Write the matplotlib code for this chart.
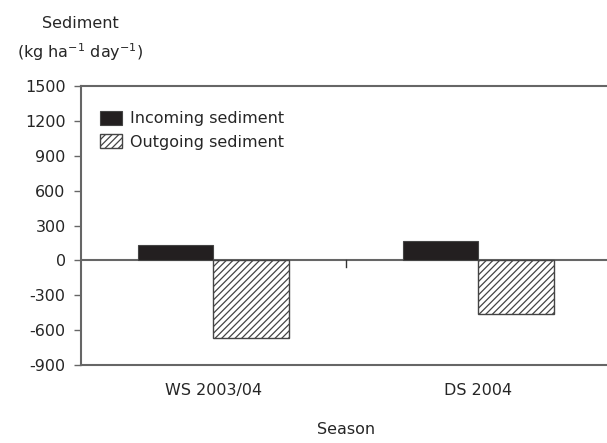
import matplotlib
matplotlib.use("Agg")
import matplotlib.pyplot as plt
import numpy as np

plt.rcParams['font.family'] = ['DejaVu Sans']
plt.rcParams['hatch.linewidth'] = 0.9
plt.rcParams['hatch.color'] = '#231f20'
plt.rcParams['mathtext.default'] = 'regular'

seasons = ["WS 2003/04", "DS 2004"]
incoming = [135, 166]
outgoing = [-665, -459]
series_names = ["Incoming sediment", "Outgoing sediment"]
yticks = [-900, -600, -300, 0, 300, 600, 900, 1200, 1500]

fs = 11.5
tc = '#262626'
fig = plt.figure(figsize=(6.07, 4.43), dpi=100)
ax = fig.add_axes([81/607, 78/443, 530/607, 279/443])

x = np.arange(len(seasons))
w = 0.285
spine_c = '#666666'
ax.bar(x - w/2, incoming, w, color='#231f20', edgecolor='#444444', linewidth=0.8,
       label=series_names[0], zorder=3)
ax.bar(x + w/2, outgoing, w, color='white', edgecolor='#444444', linewidth=1.0,
       hatch='/////', label=series_names[1], zorder=3)

ax.axhline(0, color=spine_c, linewidth=1.5, zorder=2)
# small category separator tick on the zero axis
ax.plot([0.5, 0.5], [0, -55], color='#333333', linewidth=1.0, zorder=2)

ax.set_xlim(-0.5, 1.5)
ax.set_ylim(-900, 1500)
ax.set_yticks(yticks)
ax.set_yticklabels([str(v) for v in yticks], fontsize=fs, color=tc)
ax.set_xticks(x)
ax.set_xticklabels(seasons, fontsize=fs, color=tc)
ax.tick_params(axis='x', length=0, pad=13)
ax.tick_params(axis='y', length=5, width=1, color=spine_c, pad=6)

for s in ['left', 'top', 'bottom']:
    ax.spines[s].set_color(spine_c)
    ax.spines[s].set_linewidth(1.5)
ax.spines['right'].set_visible(False)

ax.set_xlabel("Season", fontsize=fs, color=tc, labelpad=17)

fig.text(80/607, 1 - 24/443, "Sediment", ha='center', va='center', fontsize=fs, color=tc)
fig.text(80/607, 1 - 52/443, r"(kg ha$^{-1}$ day$^{-1}$)", ha='center', va='center',
         fontsize=fs, color=tc)

leg = ax.legend(loc='upper left', bbox_to_anchor=(0.024, 0.935), frameon=False, fontsize=fs,
                handlelength=1.4, handleheight=1.0, handletextpad=0.45, labelspacing=0.5,
                borderaxespad=0)
for t in leg.get_texts():
    t.set_color(tc)

fig.savefig("out.png", dpi=100)
